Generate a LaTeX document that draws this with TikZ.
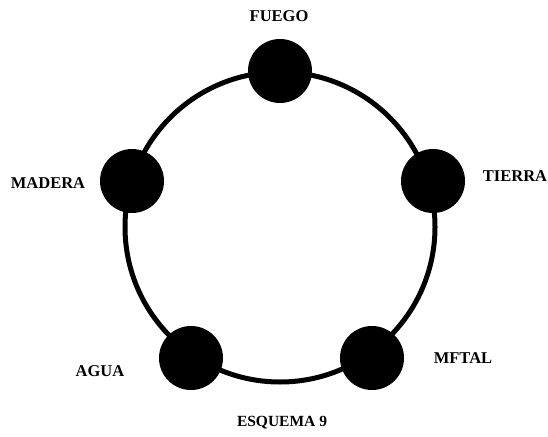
\documentclass[tikz,border=0pt]{standalone}
\usepackage{fontspec}
\setmainfont{Liberation Serif}
\begin{document}
\begin{tikzpicture}[x=1pt, y=-1pt,
    elemdot/.style={circle, fill=black, minimum size=64pt, inner sep=0pt},
    elemtext/.style={font=\bfseries\fontsize{16.5}{18}\selectfont, inner sep=0pt}]
			\useasboundingbox (0,0) rectangle (548,436);
			\draw [line width=5pt] (280,227) circle (155pt);
			\node[elemdot] (fuego) at (280,71) {};
			\node[elemdot] (madera) at (132,181) {};
			\node[elemdot] (tierra) at (433,181) {};
			\node[elemdot] (agua) at (191,358) {};
			\node[elemdot] (metal) at (372,358) {};
			\node[elemtext] (fuegotxt) at (279,16) {FUEGO};
			\node[elemtext] (maderatxt) at (48,183) {MADERA};
			\node[elemtext] (tierratxt) at (515,176) {TIERRA};
			\node[elemtext] (aguatxt) at (100,371) {AGUA};
			\node[elemtext] (metaltxt) at (463,358) {MFTAL};
			\node[elemtext, font=\bfseries\fontsize{15.5}{17}\selectfont] (titulo) at (282,423) {ESQUEMA 9};
	\end{tikzpicture}
\end{document}
